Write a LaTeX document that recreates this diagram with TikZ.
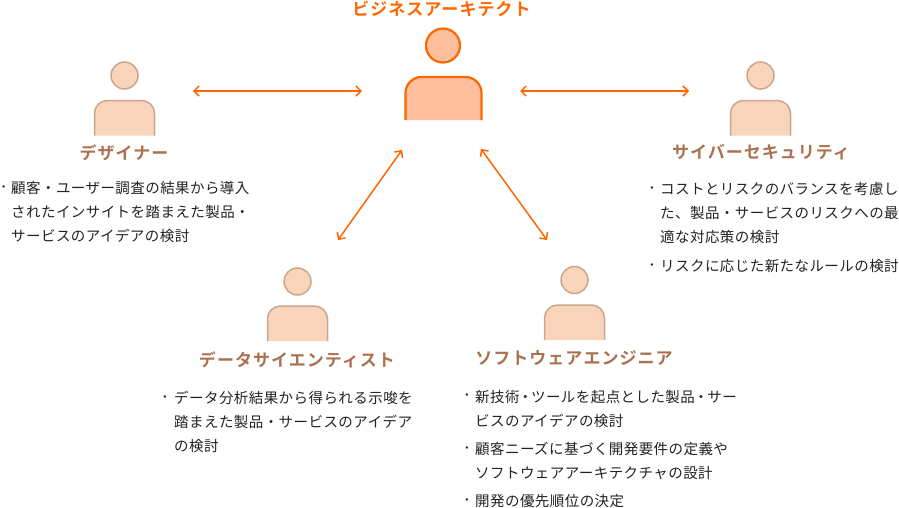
\documentclass[tikz,border=0pt]{standalone}
\usepackage{fontspec}
\setmainfont{Noto Sans CJK JP}[LetterSpace=3]
\newfontfamily\titlefont{Noto Sans CJK JP Bold}[LetterSpace=6]
\newfontfamily\dotfont{Noto Sans CJK JP}
\usetikzlibrary{arrows.meta}
\definecolor{archorange}{HTML}{FF6600}
\definecolor{archfill}{HTML}{FFBF9C}
\definecolor{roleline}{HTML}{CBA68C}
\definecolor{rolefill}{HTML}{F8D4BB}
\definecolor{rolebrown}{HTML}{A9714F}
\definecolor{bodygray}{HTML}{222222}

% one person: name, x of centre, y of head, y of shoulders
\newcommand{\roleperson}[4]{
\node[head] (#1) at (#2,#3) {};
\fill[rolefill] (#2-30,#4+35) [rounded corners=13pt] -- (#2-30,#4) -- (#2+30,#4) [sharp corners] -- (#2+30,#4+35) -- cycle;
\draw[rolebody, rounded corners=13pt] (#2-30,#4+35) -- (#2-30,#4) -- (#2+30,#4) -- (#2+30,#4+35);
}

\begin{document}
\begin{tikzpicture}[
	x=1pt, y=-1pt,
	head/.style={circle, draw=roleline, fill=rolefill, line width=1.5pt, minimum size=27pt, inner sep=0pt},
	rolebody/.style={draw=roleline, line width=1.5pt},
	role/.style={font=\titlefont\fontsize{17}{20}\selectfont, text=rolebrown, inner sep=0pt},
	item/.style={font=\fontsize{14.5}{24}\selectfont, text=bodygray, align=left, anchor=north west, inner sep=0pt},
	dot/.style={font=\dotfont\fontsize{14.5}{24}\selectfont, text=bodygray, inner sep=0pt},
	link/.style={<->, >={Straight Barb[length=5pt,width=10pt]}, draw=archorange, line width=1.5pt}]
\useasboundingbox (0,0) rectangle (899,507);

% centre person
\node[head, draw=archorange, fill=archfill, line width=2.2pt, minimum size=34pt] (architect) at (443,45.5) {};
\draw[draw=archorange, fill=archfill, line width=2.2pt, rounded corners=16pt] (405.5,120) -- (405.5,77) -- (481.5,77) -- (481.5,120);
\node[role, text=archorange] (architectname) at (441.5,8.5) {ビジネスアーキテクト};

\roleperson{designer}{124.5}{75.5}{100.5}
\roleperson{cyber}{760.5}{75.5}{100.5}
\roleperson{data}{297.5}{281.5}{306}
\roleperson{engineer}{574.5}{280}{305}

\node[role] (designername) at (124,152.5) {デザイナー};
\node[role] (cybername) at (761,152.5) {サイバーセキュリティ};
\node[role] (dataname) at (297,359.5) {データサイエンティスト};
\node[role] (engineername) at (574,358.5) {ソフトウェアエンジニア};

% lists
\node[dot] (d0) at (3.7,189.5) {･};
\node[item] (d1) at (11,181) {顧客・ユーザー調査の結果から導入\\されたインサイトを踏まえた製品・\\サービスのアイデアの検討};

\node[dot] (c0) at (652,190) {･};
\node[item] (c1) at (660,182) {コストとリスクのバランスを考慮し\\た、製品・サービスのリスクへの最\\適な対応策の検討};
\node[dot] (c2) at (652,267) {･};
\node[item] (c3) at (660,259) {リスクに応じた新たなルールの検討};

\node[dot] (s0) at (165,399) {･};
\node[item] (s1) at (174,391) {データ分析結果から得られる示唆を\\踏まえた製品・サービスのアイデア\\の検討};

\node[dot] (e0) at (467,397) {･};
\node[item] (e1) at (475,390) {新技術\kern-1.5pt・\kern-1.5pt ツールを起点とした製品\kern-1pt・\kern-1pt サー\\ビスのアイデアの検討};
\node[dot] (e2) at (467,450) {･};
\node[item] (e3) at (475,442) {顧客ニーズに基づく開発要件の定義や\\ソフトウェアアーキテクチャの設計};
\node[dot] (e4) at (467,502) {･};
\node[item] (e5) at (475,494) {開発の優先順位の決定};

% arrow ends
\coordinate (designerend) at (193,91);
\coordinate (archwest) at (362,91);
\coordinate (archeast) at (520,91);
\coordinate (cyberend) at (689,91);
\coordinate (archsw) at (402,150);
\coordinate (dataend) at (338,240);
\coordinate (archse) at (481,149);
\coordinate (engineerend) at (547,240);

\draw[link] (designerend) -- (archwest);
\draw[link] (archeast) -- (cyberend);
\draw[link] (archsw) -- (dataend);
\draw[link] (archse) -- (engineerend);
\end{tikzpicture}
\end{document}
